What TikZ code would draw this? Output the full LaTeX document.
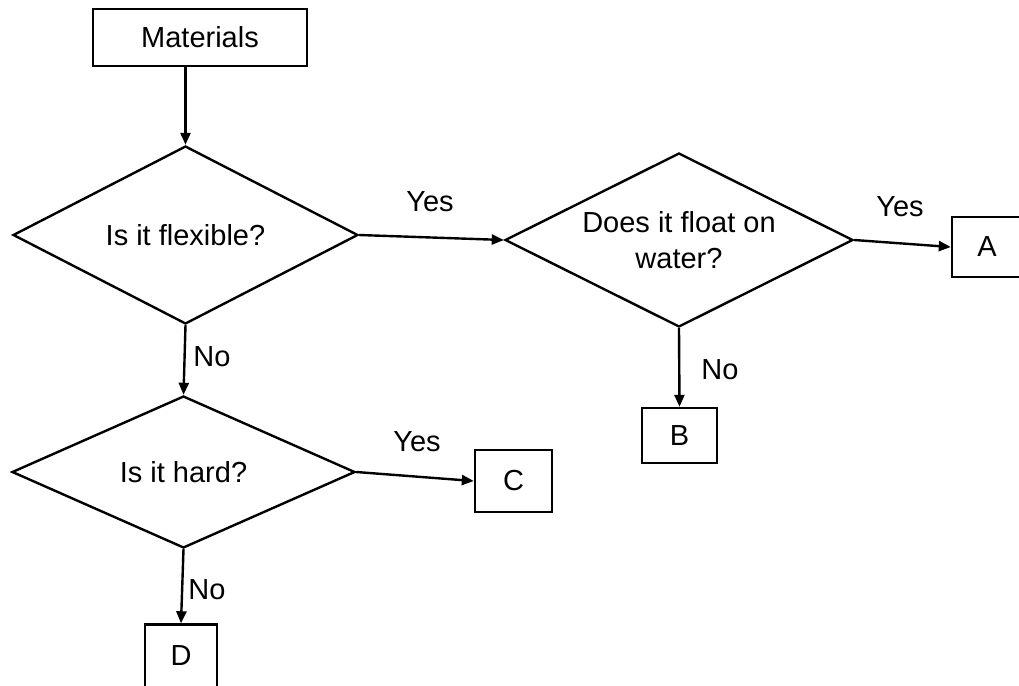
\documentclass[tikz,border=0pt]{standalone}
\usepackage{fontspec}
\setmainfont{Liberation Sans}
\usetikzlibrary{shapes.geometric,arrows.meta}
\begin{document}
\begin{tikzpicture}[x=0.5pt,y=-0.5pt,
  every node/.style={font=\fontsize{14.5}{18}\selectfont},
  box/.style={draw,line width=1.2pt,rectangle,inner sep=0pt},
  decision/.style={draw,line width=1.2pt,diamond,shape aspect=2,inner sep=0pt,align=center},
  arr/.style={line width=1.2pt,-{Triangle[length=6pt,width=5pt]}},
  lbl/.style={inner sep=0pt}]
\useasboundingbox (0,0) rectangle (1019,686);
% boxes
\node[box,minimum width=107pt,minimum height=28.5pt] (mat) at (200,37.5) {Materials};
\node[box,minimum width=35pt,minimum height=30pt] (A) at (987,247) {A};
\node[box,minimum width=37.5pt,minimum height=27.5pt] (B) at (679.5,435.5) {B};
\node[box,minimum width=38.5pt,minimum height=31pt] (C) at (513.5,481) {C};
\node[box,minimum width=36pt,minimum height=31.5pt] (D) at (181,656) {D};
% decisions
\node[decision,minimum width=172.5pt,minimum height=89pt] (d1) at (185.5,235) {Is it flexible?};
\node[decision,minimum width=174pt,minimum height=87pt] (d2) at (679,240) {Does it float on\\water?};
\node[decision,minimum width=171.5pt,minimum height=76pt] (d3) at (183.5,472) {Is it hard?};
% connectors
\draw[arr] (d1.north |- mat.south) -- (d1.north);
\draw[arr] (d1.east) -- (d2.west);
\draw[arr] (d2.east) -- (A.west);
\draw[arr] (d2.south) -- (B.north);
\draw[arr] (d1.south) -- (d3.north);
\draw[arr] (d3.east) -- (C.west);
\draw[arr] (d3.south) -- (D.north);
% labels
\node[lbl] (y1) at (430,202) {Yes};
\node[lbl] (y2) at (900,207) {Yes};
\node[lbl] (n2) at (720,370) {No};
\node[lbl] (n1) at (212,357) {No};
\node[lbl] (y3) at (417,442) {Yes};
\node[lbl] (n3) at (207,590) {No};
\end{tikzpicture}
\end{document}
